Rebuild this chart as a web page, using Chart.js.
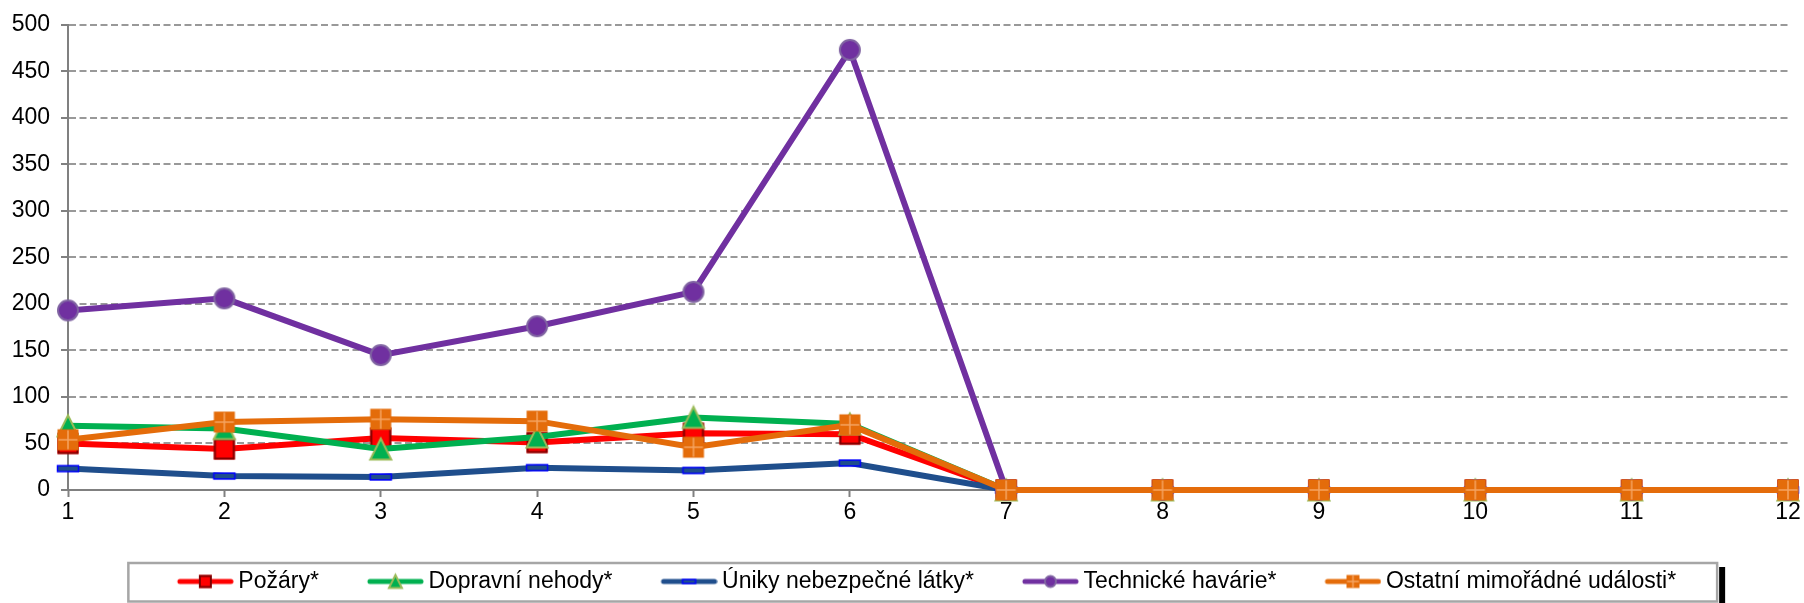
<!DOCTYPE html>
<html>
<head>
<meta charset="utf-8">
<script src="https://cdn.jsdelivr.net/npm/chart.js@4"></script>
<style>
    body { margin: 0; background: #ffffff; }
    canvas { display: block; }
</style>
</head>
<body>
<canvas id="chart" width="1804" height="603"></canvas>
<script>
// data
const categories = ['1', '2', '3', '4', '5', '6', '7', '8', '9', '10', '11', '12'];
const seriesNames = ['Požáry*', 'Dopravní nehody*', 'Úniky nebezpečné látky*', 'Technické havárie*', 'Ostatní mimořádné události*'];
const pozary = [50, 44, 56, 51, 61, 60, 0, 0, 0, 0, 0, 0];
const dopravniNehody = [69, 66, 44, 57, 78, 71, 0, 0, 0, 0, 0, 0];
const uniky = [23, 15, 14, 24, 21, 29, 0, 0, 0, 0, 0, 0];
const technickeHavarie = [193, 206, 145, 176, 213, 473, 0, 0, 0, 0, 0, 0];
const ostatni = [54, 73, 76, 74, 46, 70, 0, 0, 0, 0, 0, 0];
const yTicks = [0, 50, 100, 150, 200, 250, 300, 350, 400, 450, 500];

const lineColors = ['#FF0000', '#00B050', '#1F4E8C', '#7030A0', '#E46C0A'];
const markerKinds = ['square', 'triangle', 'dash', 'circle', 'plusSquare'];
const fontFamily = '"Liberation Sans", Arial, sans-serif';

// draws one Excel-like marker centred on cx, cy
function drawMarker(ctx, kind, cx, cy, s) {
    const h = s / 2;
    ctx.save();
    if (kind === 'square') {
        ctx.fillStyle = '#FF0000';
        ctx.strokeStyle = '#7F0000';
        ctx.lineWidth = 2;
        ctx.fillRect(cx - h, cy - h, s, s);
        ctx.strokeRect(cx - h + 1, cy - h + 1, s - 2, s - 2);
    } else if (kind === 'triangle') {
        ctx.fillStyle = '#00B050';
        ctx.strokeStyle = '#9BBB59';
        ctx.lineWidth = 2;
        ctx.beginPath();
        ctx.moveTo(cx, cy - h);
        ctx.lineTo(cx + h, cy + h);
        ctx.lineTo(cx - h, cy + h);
        ctx.closePath();
        ctx.fill();
        ctx.stroke();
    } else if (kind === 'dash') {
        const dh = Math.max(4, s * 0.28);
        ctx.fillStyle = '#1F4E8C';
        ctx.strokeStyle = '#0000FF';
        ctx.lineWidth = 1.5;
        ctx.fillRect(cx - h, cy - dh / 2, s, dh);
        ctx.strokeRect(cx - h, cy - dh / 2, s, dh);
    } else if (kind === 'circle') {
        ctx.fillStyle = '#7030A0';
        ctx.strokeStyle = '#8064A2';
        ctx.lineWidth = 2;
        ctx.beginPath();
        ctx.arc(cx, cy, h - 1, 0, Math.PI * 2);
        ctx.fill();
        ctx.stroke();
    } else if (kind === 'plusSquare') {
        ctx.fillStyle = '#E46C0A';
        ctx.fillRect(cx - h, cy - h, s, s);
        ctx.strokeStyle = '#F5A462';
        ctx.lineWidth = 1.5;
        ctx.beginPath();
        ctx.moveTo(cx, cy - h + 1);
        ctx.lineTo(cx, cy + h - 1);
        ctx.moveTo(cx - h + 1, cy);
        ctx.lineTo(cx + h - 1, cy);
        ctx.stroke();
    }
    ctx.restore();
}

function pointIcon(kind) {
    const c = document.createElement('canvas');
    c.width = 26;
    c.height = 26;
    drawMarker(c.getContext('2d'), kind, 13, 13, kind === 'circle' ? 22 : 21);
    return c;
}

// legend icon: line segment with the marker in the middle
function legendIcon(kind, color) {
    const c = document.createElement('canvas');
    c.width = 102;
    c.height = 24;
    const ctx = c.getContext('2d');
    ctx.strokeStyle = color;
    ctx.lineWidth = 5;
    ctx.lineCap = 'round';
    ctx.beginPath();
    ctx.moveTo(48, 12);
    ctx.lineTo(99, 12);
    ctx.stroke();
    drawMarker(ctx, kind, 73.5, 12, 13);
    return c;
}

const seriesValues = [pozary, dopravniNehody, uniky, technickeHavarie, ostatni];
const legendIcons = markerKinds.map((k, i) => legendIcon(k, lineColors[i]));

const datasets = seriesValues.map((values, i) => ({
    label: seriesNames[i],
    data: values,
    borderColor: lineColors[i],
    backgroundColor: lineColors[i],
    borderWidth: 6,
    tension: 0,
    fill: false,
    clip: false,
    pointStyle: pointIcon(markerKinds[i]),
    pointRadius: 10,
    pointHoverRadius: 10,
    order: seriesValues.length - i // last series drawn on top, like Excel
}));

// the legend in the reference sits a little right of centre
const legendShift = {
    id: 'legendShift',
    afterLayout(chart) {
        if (chart.legend) chart.legend.left += 27;
    }
};

// border + shadow round the legend
const legendFrame = {
    id: 'legendFrame',
    afterDraw(chart) {
        const lg = chart.legend;
        if (!lg || !lg.legendHitBoxes || !lg.legendHitBoxes.length) return;
        const boxes = lg.legendHitBoxes;
        const first = boxes[0];
        const last = boxes[boxes.length - 1];
        const left = first.left - 10.5;
        const right = last.left + last.width + 41;
        const top = lg.top + 3;
        const bottom = lg.top + 41.5;
        const ctx = chart.ctx;
        ctx.save();
        ctx.fillStyle = '#000000';
        ctx.fillRect(right + 2, top + 4, 6, chart.height - top);
        ctx.strokeStyle = '#A6A6A6';
        ctx.lineWidth = 2.5;
        ctx.strokeRect(left, top, right - left, bottom - top);
        ctx.restore();
    }
};

const ctx = document.getElementById('chart').getContext('2d');
const chart = new Chart(ctx, {
    type: 'line',
    data: {
        labels: categories,
        datasets: datasets
    },
    options: {
        responsive: false,
        animation: false,
        events: [],
        layout: {
            padding: { left: 0, right: 16, top: 23, bottom: 0 }
        },
        plugins: {
            title: { display: false },
            tooltip: { enabled: false },
            legend: {
                display: true,
                position: 'bottom',
                labels: {
                    usePointStyle: true,
                    pointStyleWidth: 88,
                    padding: 10,
                    color: '#000000',
                    font: { family: fontFamily, size: 23 },
                    generateLabels: function(chart) {
                        return chart.data.datasets.map((ds, i) => ({
                            text: ds.label,
                            pointStyle: legendIcons[i],
                            fillStyle: ds.borderColor,
                            strokeStyle: ds.borderColor,
                            lineWidth: 0,
                            hidden: false,
                            datasetIndex: i,
                            fontColor: '#000000'
                        }));
                    }
                }
            }
        },
        scales: {
            x: {
                type: 'category',
                offset: false,
                afterFit: function(scale) { scale.height = 70; },
                grid: {
                    display: true,
                    drawOnChartArea: false,
                    drawTicks: true,
                    tickLength: 7,
                    tickWidth: 2,
                    tickColor: '#808080'
                },
                border: { display: true, color: '#808080', width: 2 },
                ticks: {
                    color: '#000000',
                    padding: 2,
                    maxRotation: 0,
                    autoSkip: false,
                    font: { family: fontFamily, size: 23 }
                }
            },
            y: {
                min: 0,
                max: 500,
                afterFit: function(scale) { scale.width = 68; },
                afterBuildTicks: function(scale) {
                    scale.ticks = yTicks.map(v => ({ value: v }));
                },
                grid: {
                    color: '#999999',
                    lineWidth: 2,
                    drawTicks: true,
                    tickLength: 7,
                    tickWidth: 2,
                    tickColor: '#808080',
                    tickBorderDash: [0, 0]
                },
                border: { display: true, color: '#808080', width: 2, dash: [7, 3.5] },
                ticks: {
                    color: '#000000',
                    padding: 11,
                    font: { family: fontFamily, size: 23 }
                }
            }
        }
    },
    plugins: [legendShift, legendFrame]
});
</script>
</body>
</html>
